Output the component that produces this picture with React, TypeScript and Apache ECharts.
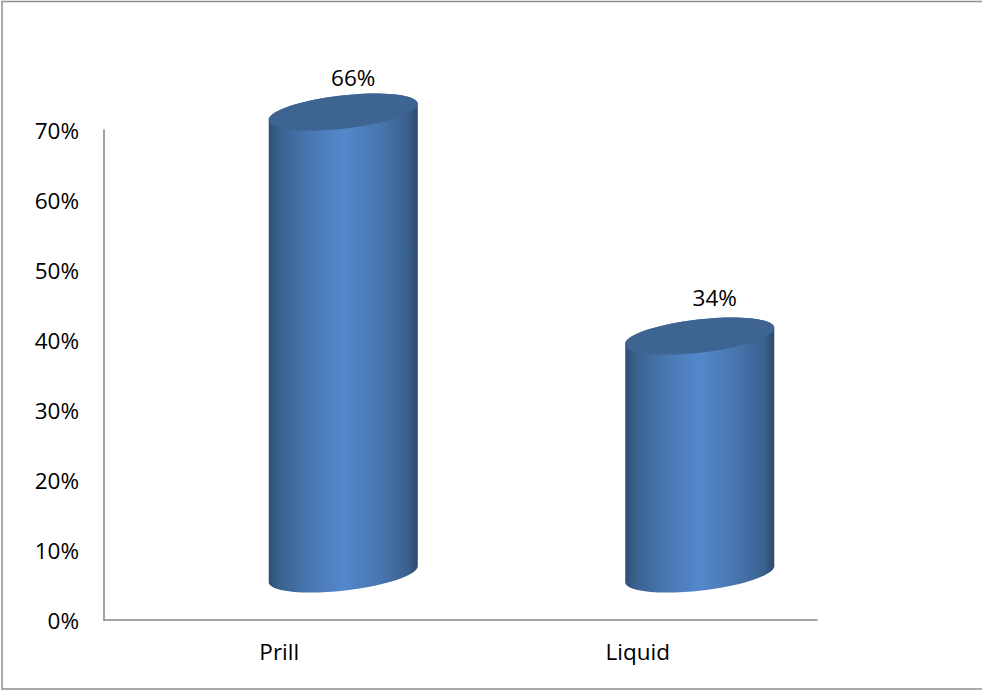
import React, { useEffect, useRef } from "react";
import * as echarts from "echarts";

const categories = ["Prill", "Liquid"];
const shares = [66, 34];
const labels = ["66%", "34%"];
const yTicks = { min: 0, max: 70, interval: 10 };

// Depth of the pseudo-3D floor, in pixels from the axis position to the cylinder axis.
const DEPTH_X = 61;
const DEPTH_Y = 46;
const RX = 75;
const RY = 16.6;
const TILT = (-6.45 * Math.PI) / 180;
const KAPPA = 0.5523;
const LABEL_SHIFT = [10, 15];
const LABEL_LIFT = [35, 39];
const CATEGORY_PAD = [6, 2];
const FONT = '"Open Sans", "Noto Sans", sans-serif';

// Point on the tilted ellipse, given as multiples of its two radii.
const at = (cx: number, cy: number, s: number, t: number) => {
  const x = s * RX;
  const y = t * RY;
  return `${cx + x * Math.cos(TILT) - y * Math.sin(TILT)} ${cy + x * Math.sin(TILT) + y * Math.cos(TILT)}`;
};

// Four quarter arcs, clockwise on screen from the left tip, each as a cubic curve.
const toBottom = (c: number, y: number) => `C${at(c, y, -1, KAPPA)} ${at(c, y, -KAPPA, 1)} ${at(c, y, 0, 1)}`;
const toRight = (c: number, y: number) => `C${at(c, y, KAPPA, 1)} ${at(c, y, 1, KAPPA)} ${at(c, y, 1, 0)}`;
const rightToTop = (c: number, y: number) => `C${at(c, y, 1, -KAPPA)} ${at(c, y, KAPPA, -1)} ${at(c, y, 0, -1)}`;
const topToLeft = (c: number, y: number) => `C${at(c, y, -KAPPA, -1)} ${at(c, y, -1, -KAPPA)} ${at(c, y, -1, 0)}`;

const renderCylinder = (params: any, api: any) => {
  const [px, py] = api.coord([api.value(0), api.value(1)]);
  const [, py0] = api.coord([api.value(0), 0]);
  const cx = px + DEPTH_X;
  const topY = py - DEPTH_Y;
  const baseY = py0 - DEPTH_Y;
  const body =
    `M${at(cx, topY, -1, 0)}L${at(cx, baseY, -1, 0)}` +
    toBottom(cx, baseY) +
    toRight(cx, baseY) +
    `L${at(cx, topY, 1, 0)}` +
    rightToTop(cx, topY) +
    topToLeft(cx, topY) +
    "Z";
  const cap =
    `M${at(cx, topY, -1, 0)}` +
    toBottom(cx, topY) +
    toRight(cx, topY) +
    rightToTop(cx, topY) +
    topToLeft(cx, topY) +
    "Z";
  return {
    type: "group",
    children: [
      {
        type: "path",
        shape: { pathData: body },
        style: {
          fill: new echarts.graphic.LinearGradient(0, 0, 1, 0, [
            { offset: 0, color: "#2f4f77" },
            { offset: 0.07, color: "#3a618f" },
            { offset: 0.25, color: "#4775ae" },
            { offset: 0.5, color: "#5488cc" },
            { offset: 0.75, color: "#4775ae" },
            { offset: 0.93, color: "#3a618f" },
            { offset: 1, color: "#2c4a70" },
          ]),
        },
      },
      {
        type: "path",
        shape: { pathData: cap },
        style: { fill: "#3e6592" },
      },
      {
        type: "text",
        x: cx + LABEL_SHIFT[params.dataIndex],
        y: topY - LABEL_LIFT[params.dataIndex],
        style: {
          text: labels[params.dataIndex],
          align: "center",
          verticalAlign: "middle",
          font: `22.5px ${FONT}`,
          fill: "#000000",
        },
      },
    ],
  };
};

export default function App() {
  const ref = useRef<HTMLDivElement>(null);

  useEffect(() => {
    document.body.style.margin = "0";
    const chart = echarts.init(ref.current!, undefined, { renderer: "svg" });
    chart.setOption({
      animation: false,
      backgroundColor: "#ffffff",
      graphic: [
        {
          type: "rect",
          shape: { x: 2, y: 1.5, width: 990, height: 687.5 },
          style: { fill: "none", stroke: "#909090", lineWidth: 1.5 },
          silent: true,
        },
      ],
      grid: { left: 104, right: 165, top: 130, bottom: 70, containLabel: false },
      xAxis: {
        type: "category",
        data: categories.map((value, i) => ({ value, textStyle: { padding: [0, CATEGORY_PAD[i], 0, 0] } })),
        axisTick: { show: false },
        axisLine: { lineStyle: { color: "#868686", width: 1.5 } },
        axisLabel: { color: "#000000", fontFamily: FONT, fontSize: 22.5, margin: 20 },
      },
      yAxis: {
        type: "value",
        min: yTicks.min,
        max: yTicks.max,
        interval: yTicks.interval,
        splitLine: { show: false },
        axisLine: { show: true, lineStyle: { color: "#868686", width: 1.5 } },
        axisTick: { show: false },
        axisLabel: { color: "#000000", fontFamily: FONT, fontSize: 22.5, margin: 25, formatter: "{value}%" },
      },
      series: [
        {
          type: "custom",
          renderItem: renderCylinder,
          data: categories.map((c, i) => [i, shares[i]]),
          encode: { x: 0, y: 1 },
          clip: false,
        },
      ],
    });
    return () => chart.dispose();
  }, []);

  return <div ref={ref} style={{ width: 982, height: 690 }} />;
}
